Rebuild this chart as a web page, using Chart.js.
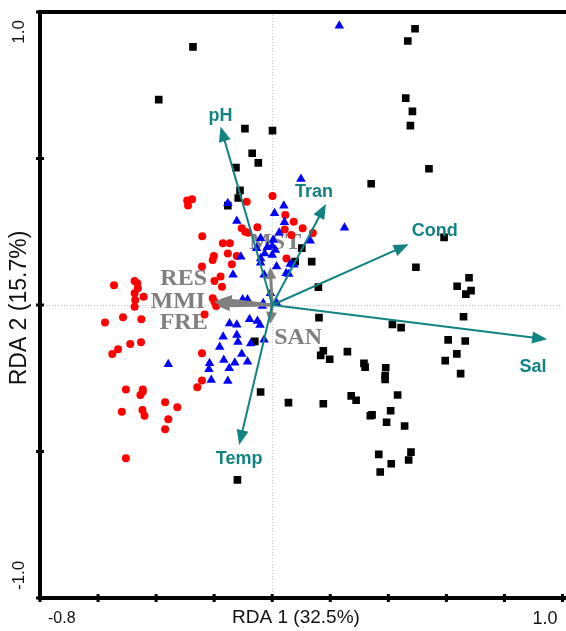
<!DOCTYPE html>
<html>
<head>
<meta charset="utf-8">
<script src="https://cdn.jsdelivr.net/npm/chart.js@4.4.1/dist/chart.umd.min.js"></script>
<style>
  html, body { margin: 0; padding: 0; background: #fff; overflow: hidden; }
  #wrap { position: absolute; left: 0; top: 0; width: 568px; height: 631px; }
</style>
</head>
<body>
<div id="wrap"><canvas id="graficoRDA" width="568" height="631"></canvas></div>
<script>
// Escores dos sítios (RDA 1, RDA 2)
const sitiosPretos = [
  [0.492, 0.943], [0.467, 0.901], [0.460, 0.706], [0.483, 0.661], [0.476, 0.612],
  [0.540, 0.465], [0.341, 0.414], [0.592, 0.231], [0.102, 0.194], [0.079, 0.148],
  [0.136, 0.148], [0.495, 0.129], [0.678, 0.093], [0.637, 0.064], [0.685, 0.049],
  [0.667, 0.037], [0.159, 0.061], [0.659, -0.040], [0.161, -0.043], [0.414, -0.066],
  [0.444, -0.077], [0.606, -0.119], [0.665, -0.123], [0.636, -0.167], [0.596, -0.190],
  [0.649, -0.234], [0.176, -0.156], [0.167, -0.172], [0.198, -0.185], [0.259, -0.159],
  [0.316, -0.199], [0.320, -0.212], [0.391, -0.214], [0.389, -0.242], [0.389, -0.254],
  [0.432, -0.307], [0.272, -0.310], [0.289, -0.325], [0.056, -0.333], [0.176, -0.337],
  [0.408, -0.361], [0.338, -0.378], [0.344, -0.375], [0.394, -0.400], [0.456, -0.413],
  [0.367, -0.510], [0.478, -0.502], [0.470, -0.529], [0.410, -0.542], [0.372, -0.570],
  [-0.273, 0.881], [-0.391, 0.701], [-0.094, 0.602], [0.001, 0.595], [-0.069, 0.518],
  [-0.048, 0.485], [-0.125, 0.469], [-0.111, 0.391], [-0.117, 0.365], [-0.153, 0.339],
  [-0.040, -0.297], [-0.120, -0.597], [-0.060, -0.124],
]

const sitiosAzuis = [
  [0.231, 0.953], [0.099, 0.430], [0.249, 0.264], [0.040, 0.339], [0.042, 0.282],
  [0.131, 0.219], [0.062, 0.140], [0.057, 0.106], [-0.153, 0.347], [0.008, 0.313],
  [-0.122, 0.287], [0.024, 0.247], [-0.040, 0.228], [0.003, 0.222], [-0.054, 0.194],
  [-0.017, 0.197], [0.000, 0.201], [0.011, 0.188], [-0.026, 0.176], [0.000, 0.171],
  [-0.040, 0.159], [-0.108, 0.165], [0.074, 0.137], [0.015, 0.131], [-0.040, 0.144],
  [-0.135, 0.103], [-0.028, 0.103], [0.048, 0.108], [-0.006, 0.040], [-0.031, 0.006],
  [0.015, 0.008], [-0.102, 0.019], [-0.085, 0.019], [-0.147, -0.063], [-0.122, -0.067],
  [-0.078, -0.049], [-0.051, -0.055], [-0.034, -0.003], [-0.042, -0.068], [-0.169, -0.108],
  [-0.122, -0.102], [-0.118, -0.126], [-0.181, -0.143], [-0.074, -0.131], [-0.028, -0.119],
  [-0.105, -0.167], [-0.167, -0.188], [-0.129, -0.197], [-0.085, -0.194], [-0.216, -0.199],
  [-0.218, -0.219], [-0.148, -0.216], [-0.358, -0.202], [-0.210, -0.256], [-0.153, -0.259],
]

const sitiosVermelhos = [
  [-0.293, 0.357], [-0.276, 0.361], [-0.290, 0.340], [-0.088, 0.352], [0.001, 0.372],
  [-0.051, 0.265], [-0.105, 0.262], [-0.093, 0.250], [-0.083, 0.247], [-0.241, 0.235],
  [-0.170, 0.211], [-0.146, 0.211], [-0.153, 0.176], [-0.201, 0.167], [-0.205, 0.154],
  [-0.139, 0.139], [-0.122, 0.167], [-0.242, 0.131], [-0.474, 0.082], [-0.465, 0.074],
  [-0.463, 0.057], [-0.474, 0.040], [-0.443, 0.028], [-0.472, 0.017], [-0.474, -0.006],
  [-0.545, 0.067], [-0.178, 0.097], [-0.199, 0.082], [-0.173, 0.062], [-0.205, 0.023],
  [-0.199, 0.011], [-0.193, -0.003], [-0.233, -0.032], [-0.514, -0.042], [-0.451, -0.049],
  [-0.576, -0.060], [-0.489, -0.133], [-0.452, -0.127], [-0.531, -0.151], [-0.551, -0.167],
  [-0.242, -0.165], [-0.242, -0.258], [-0.258, -0.281], [-0.504, -0.288], [-0.446, -0.288],
  [-0.446, -0.296], [-0.454, -0.307], [-0.518, -0.364], [-0.447, -0.358], [-0.440, -0.378],
  [-0.369, -0.332], [-0.327, -0.349], [-0.358, -0.390], [-0.369, -0.424], [-0.504, -0.523],
  [0.045, 0.307], [0.074, 0.284], [0.105, 0.262], [0.140, 0.246], [0.043, 0.258],
  [0.066, 0.239], [0.049, 0.159],
]

// Variáveis ambientais (setas verde-azuladas)
const ambNomes = ["pH", "Tran", "Cond", "Sal", "Temp"]
const ambX = [-0.178, 0.185, 0.470, 0.947, -0.114]
const ambY = [0.609, 0.345, 0.207, -0.117, -0.478]

// Variáveis suplementares (setas cinza)
const supNomes = ["MST", "RES", "MMI", "FRE", "SAN"]
const supX = [-0.007, -0.181, -0.201, -0.188, -0.007]
const supY = [0.130, 0.020, 0.010, -0.003, -0.065]

// Rótulos dos eixos
const xTickLabels = [-0.8, 1.0]
const yTickLabels = [1.0, -1.0]
const tituloX = "RDA 1 (32.5%)"
const tituloY = "RDA 2 (15.7%)"

// deslocamento (px) dos rótulos em relação à ponta da seta
const ambDesloc = [[0, -11], [-12, -12], [26, -13], [-14, 28], [0, 14]]
const supDesloc = [[5, -24], [-36, -20], [-36, 0], [-34, 17], [28, 14]]

const corTeal = "#128282"
const corCinza = "#808080"

const paraPontos = (lista) => lista.map((p) => ({ x: p[0], y: p[1] }))

function desenharSeta(ctx, x0, y0, x1, y1, cor, espessura, comp, larg) {
  const ang = Math.atan2(y1 - y0, x1 - x0)
  const c = Math.cos(ang)
  const s = Math.sin(ang)
  ctx.strokeStyle = cor
  ctx.fillStyle = cor
  ctx.lineWidth = espessura
  ctx.beginPath()
  ctx.moveTo(x0, y0)
  ctx.lineTo(x1 - c * comp * 0.7, y1 - s * comp * 0.7)
  ctx.stroke()
  ctx.beginPath()
  ctx.moveTo(x1, y1)
  ctx.lineTo(x1 - c * comp + s * larg / 2, y1 - s * comp - c * larg / 2)
  ctx.lineTo(x1 - c * comp - s * larg / 2, y1 - s * comp + c * larg / 2)
  ctx.closePath()
  ctx.fill()
}

const plugBiplot = {
  id: "biplot",
  beforeDatasetsDraw(chart) {
    const { ctx, chartArea: a, scales: { x, y } } = chart
    ctx.save()
    // linhas do zero (pontilhadas)
    const x0 = Math.round(x.getPixelForValue(0)) + 0.5
    const y0 = Math.round(y.getPixelForValue(0)) + 0.5
    ctx.strokeStyle = "#c4c4c4"
    ctx.lineWidth = 1
    ctx.setLineDash([1, 2])
    ctx.beginPath()
    ctx.moveTo(x0, a.top)
    ctx.lineTo(x0, a.bottom)
    ctx.moveTo(a.left, y0)
    ctx.lineTo(a.right, y0)
    ctx.stroke()
    ctx.setLineDash([])

    // rótulos cinza ficam atrás dos pontos
    ctx.font = "bold 24px 'Liberation Serif', 'Times New Roman', serif"
    ctx.fillStyle = corCinza
    ctx.textAlign = "center"
    ctx.textBaseline = "middle"
    supNomes.forEach((nome, i) => {
      const px = x.getPixelForValue(supX[i]) + supDesloc[i][0]
      const py = y.getPixelForValue(supY[i]) + supDesloc[i][1]
      ctx.fillText(nome, px, py)
    })
    ctx.restore()
  },
  afterDatasetsDraw(chart) {
    const { ctx, scales: { x, y } } = chart
    const ox = x.getPixelForValue(0)
    const oy = y.getPixelForValue(0)
    ctx.save()
    supNomes.forEach((nome, i) => {
      desenharSeta(ctx, ox, oy, x.getPixelForValue(supX[i]), y.getPixelForValue(supY[i]), corCinza, 3, 12, 11)
    })
    ambNomes.forEach((nome, i) => {
      desenharSeta(ctx, ox, oy, x.getPixelForValue(ambX[i]), y.getPixelForValue(ambY[i]), corTeal, 2, 15, 12)
    })
    ctx.font = "bold 18px 'Liberation Sans', Arial, sans-serif"
    ctx.fillStyle = corTeal
    ctx.textAlign = "center"
    ctx.textBaseline = "middle"
    ambNomes.forEach((nome, i) => {
      const px = x.getPixelForValue(ambX[i]) + ambDesloc[i][0]
      const py = y.getPixelForValue(ambY[i]) + ambDesloc[i][1]
      ctx.fillText(nome, px, py)
    })
    ctx.restore()
  },
  afterDraw(chart) {
    const { ctx, chartArea: a, scales: { x, y } } = chart
    ctx.save()
    // eixos grossos (esquerda, base e topo)
    ctx.strokeStyle = "#000"
    ctx.lineWidth = 4
    ctx.lineCap = "square"
    ctx.beginPath()
    ctx.moveTo(a.right + 2, a.top)
    ctx.lineTo(a.left, a.top)
    ctx.lineTo(a.left, a.bottom)
    ctx.lineTo(a.right + 2, a.bottom)
    ctx.stroke()

    // marcas dos ticks
    ctx.lineWidth = 3
    ctx.lineCap = "butt"
    ctx.beginPath()
    x.ticks.forEach((t) => {
      const px = x.getPixelForValue(t.value)
      ctx.moveTo(px, a.bottom - 4)
      ctx.lineTo(px, a.bottom + 4)
    })
    y.ticks.forEach((t) => {
      const py = y.getPixelForValue(t.value)
      ctx.moveTo(a.left - 4, py)
      ctx.lineTo(a.left + 4, py)
    })
    ctx.stroke()

    ctx.fillStyle = "#111"
    ctx.textBaseline = "middle"
    // rótulos do eixo X
    ctx.font = "16px 'Liberation Sans', Arial, sans-serif"
    ctx.textAlign = "left"
    ctx.fillText(xTickLabels[0].toFixed(1), x.getPixelForValue(xTickLabels[0]) + 8, 619)
    ctx.font = "18px 'Liberation Sans', Arial, sans-serif"
    ctx.textAlign = "right"
    ctx.fillText(xTickLabels[1].toFixed(1), x.getPixelForValue(xTickLabels[1]) - 5, 619)

    ctx.font = "19px 'Liberation Sans', Arial, sans-serif"
    ctx.textAlign = "center"
    ctx.fillText(tituloX, 296, 618)

    // rótulos do eixo Y (girados)
    ctx.font = "17px 'Liberation Sans', Arial, sans-serif"
    ctx.save()
    ctx.translate(19.5, y.getPixelForValue(yTickLabels[0]) + 8)
    ctx.rotate(-Math.PI / 2)
    ctx.textAlign = "right"
    ctx.fillText(yTickLabels[0].toFixed(1), 0, 0)
    ctx.restore()
    ctx.save()
    ctx.translate(19.5, y.getPixelForValue(yTickLabels[1]) - 8)
    ctx.rotate(-Math.PI / 2)
    ctx.textAlign = "left"
    ctx.fillText(yTickLabels[1].toFixed(1), 0, 0)
    ctx.restore()

    ctx.font = "23px 'Liberation Sans', Arial, sans-serif"
    ctx.save()
    ctx.translate(20, 308)
    ctx.rotate(-Math.PI / 2)
    ctx.textAlign = "center"
    ctx.fillText(tituloY, 0, 0)
    ctx.restore()

    ctx.restore()
  },
}

const ctx = document.getElementById("graficoRDA").getContext("2d")
new Chart(ctx, {
  type: "scatter",
  data: {
    datasets: [
      {
        label: "Azul",
        data: paraPontos(sitiosAzuis),
        pointStyle: "triangle",
        pointRadius: 5.5,
        backgroundColor: "#0000ff",
        borderColor: "#0000ff",
        borderWidth: 0,
      },
      {
        label: "Preto",
        data: paraPontos(sitiosPretos),
        pointStyle: "rect",
        pointRadius: 5.4,
        backgroundColor: "#000000",
        borderColor: "#000000",
        borderWidth: 0,
      },
      {
        label: "Vermelho",
        data: paraPontos(sitiosVermelhos),
        pointStyle: "circle",
        pointRadius: 4,
        backgroundColor: "#ff0000",
        borderColor: "#ff0000",
        borderWidth: 0,
      },
    ],
  },
  options: {
    responsive: false,
    animation: false,
    layout: { padding: { top: 12, left: 0, right: 0, bottom: 0 } },
    plugins: {
      legend: { display: false },
      tooltip: { enabled: false },
    },
    scales: {
      x: {
        type: "linear",
        min: -0.8,
        max: 1.0,
        ticks: { display: false, stepSize: 0.2 },
        grid: { display: false },
        border: { display: false },
        afterFit(s) { s.height = 33 },
      },
      y: {
        type: "linear",
        min: -1.0,
        max: 1.0,
        ticks: { display: false, stepSize: 0.5 },
        grid: { display: false },
        border: { display: false },
        afterFit(s) { s.width = 40 },
      },
    },
  },
  plugins: [plugBiplot],
})
</script>
</body>
</html>
